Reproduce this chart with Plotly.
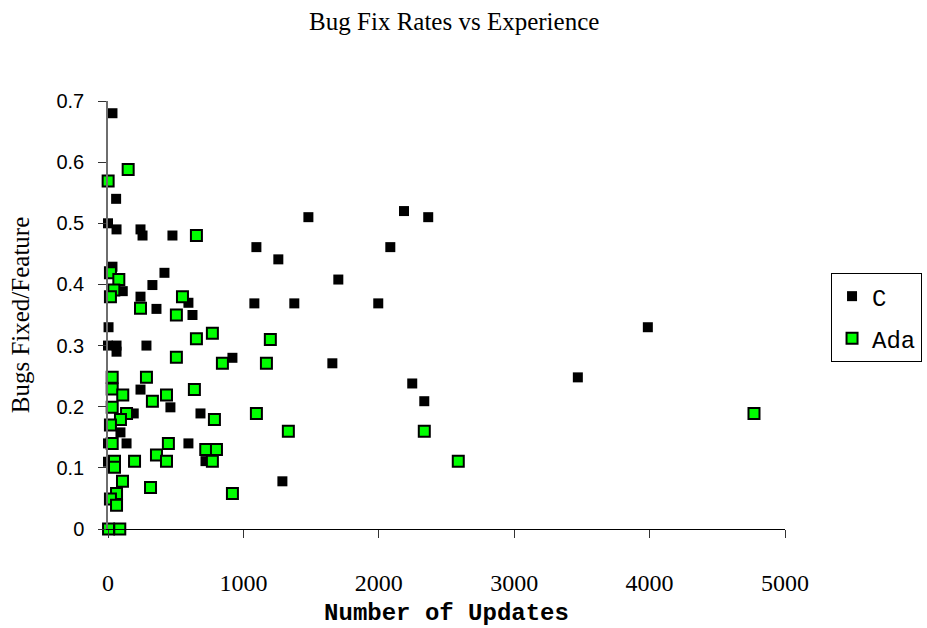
import plotly.graph_objects as go

# Number of updates (x) and bugs fixed per feature (y) for each language
c_updates = [33, 60, 0, 63, 240, 255, 476, 33, 417, 328, 109, 240, 594, 358, 624,
             4, 0, 63, 63, 284, 919, 240, 461, 190, 683, 92, 0, 137, 594, 0, 720,
             1480, 2186, 2365, 1096, 2085, 1258, 1701, 1081, 1376, 1996, 1657,
             2247, 2336, 1288, 3987, 3470]
c_rates = [0.680, 0.540, 0.500, 0.490, 0.490, 0.480, 0.480, 0.429, 0.419, 0.399,
           0.389, 0.380, 0.370, 0.360, 0.350, 0.330, 0.300, 0.300, 0.290, 0.300,
           0.280, 0.228, 0.199, 0.189, 0.189, 0.158, 0.140, 0.140, 0.140, 0.110,
           0.111, 0.510, 0.520, 0.510, 0.461, 0.461, 0.441, 0.408, 0.369, 0.369,
           0.369, 0.271, 0.238, 0.209, 0.078, 0.330, 0.248]

ada_updates = [149, 1, 653, 18, 80, 43, 18, 550, 240, 505, 771, 653, 505, 845, 31,
               284, 31, 638, 109, 432, 328, 31, 137, 92, 786, 18, 31, 446, 722, 801,
               358, 48, 196, 432, 771, 48, 107, 314, 63, 919, 18, 63, 4, 87,
               1199, 1170, 1096, 1332, 2336, 2587, 4771]
ada_rates = [0.588, 0.569, 0.480, 0.419, 0.408, 0.391, 0.380, 0.380, 0.361, 0.350,
             0.320, 0.311, 0.281, 0.271, 0.248, 0.248, 0.229, 0.228, 0.219, 0.219,
             0.209, 0.199, 0.189, 0.179, 0.179, 0.170, 0.140, 0.140, 0.130, 0.130,
             0.121, 0.111, 0.111, 0.111, 0.111, 0.101, 0.078, 0.068, 0.058, 0.058,
             0.049, 0.039, 0.000, 0.000, 0.310, 0.271, 0.189, 0.160, 0.160, 0.111,
             0.189]

x_ticks = [0, 1000, 2000, 3000, 4000, 5000]
y_ticks = [0, 0.1, 0.2, 0.3, 0.4, 0.5, 0.6, 0.7]

SERIF = "Liberation Serif, Times New Roman, serif"
MONO = "Liberation Mono, Courier New, monospace"
SANS = "Liberation Sans, Arial, sans-serif"

fig = go.Figure()
fig.add_trace(go.Scatter(
    x=c_updates, y=c_rates, mode="markers", name="C", legendgroup="c",
    marker=dict(symbol="square", size=10, color="#000000", line=dict(width=0)),
    cliponaxis=False,
))
fig.add_trace(go.Scatter(
    x=ada_updates, y=ada_rates, mode="markers", name="Ada", legendgroup="ada",
    marker=dict(symbol="square", size=11, color="#00ff00",
                line=dict(width=2, color="#000000")),
    cliponaxis=False,
))

fig.update_layout(
    width=927, height=628,
    margin=dict(l=107.5, r=142, t=101, b=99, autoexpand=False),
    paper_bgcolor="white", plot_bgcolor="white",
    title=dict(text="Bug Fix Rates vs Experience", x=0.49, xanchor="center",
               y=1 - 21 / 628, yanchor="middle", yref="container",
               font=dict(family=SERIF, size=25, color="black")),
    showlegend=True,
    legend=dict(x=1.068, xanchor="left", y=0.598, yanchor="top",
                bordercolor="black", borderwidth=1, bgcolor="white",
                font=dict(family=MONO, size=24, color="black"),
                tracegroupgap=8, itemwidth=30),
    xaxis=dict(
        range=[0, 5000], tickvals=x_ticks, tickformat="d", automargin=False,
        showgrid=False, zeroline=False,
        showline=True, linecolor="#000000", linewidth=1,
        ticks="outside", ticklen=8, tickcolor="#333333", tickwidth=1,
        ticklabelstandoff=24,
        tickfont=dict(family=SERIF, size=24, color="black"),
        title=dict(text="Number of Updates", standoff=8,
                   font=dict(family=MONO, size=24, color="black", weight="bold")),
    ),
    yaxis=dict(
        range=[0, 0.7], tickvals=y_ticks, automargin=False,
        showgrid=False, zeroline=False,
        showline=True, linecolor="#6e6e6e", linewidth=1.5,
        ticks="outside", ticklen=8, tickcolor="#333333", tickwidth=1,
        ticklabelstandoff=10,
        tickfont=dict(family=SANS, size=20, color="black"),
        title=dict(text="Bugs Fixed/Feature", standoff=20,
                   font=dict(family=SERIF, size=25, color="black")),
    ),
    # mirror axes carrying the inner half of the crossing tick marks
    xaxis2=dict(range=[0, 5000], tickvals=x_ticks, overlaying="x", anchor="y",
                side="bottom", showgrid=False, zeroline=False, showline=False,
                ticks="inside", ticklen=8, tickcolor="#333333", tickwidth=1,
                showticklabels=False),
    yaxis2=dict(range=[0, 0.7], tickvals=y_ticks, overlaying="y", anchor="x",
                side="left", showgrid=False, zeroline=False, showline=False,
                ticks="inside", ticklen=8, tickcolor="#333333", tickwidth=1,
                showticklabels=False),
)

fig.write_html("out.html")
